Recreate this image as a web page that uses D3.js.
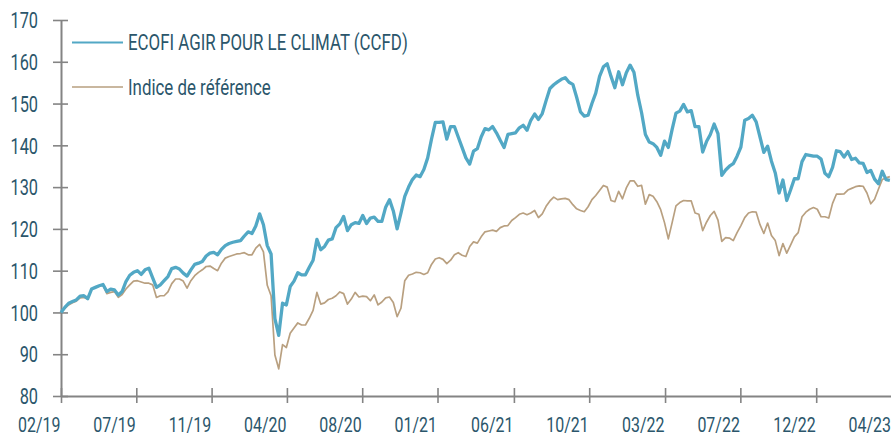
<!DOCTYPE html>
<html>
<head>
<meta charset="utf-8">
<script src="https://cdn.jsdelivr.net/npm/d3@7"></script>
<style>
  html, body { margin: 0; padding: 0; background: #fff; }
  svg { display: block; }
  text { font-family: Roboto, "Liberation Sans", sans-serif; fill: #2b566b; }
</style>
</head>
<body>
<svg id="chart" width="891" height="437"></svg>
<script>
// Weekly closes, base 100 on 22/02/2019
const startDate = "2019-02-22";

const ecofi = [
  100.0, 101.2, 102.2, 102.6, 103.0, 103.9, 104.0, 103.3, 105.6, 106.0,
  106.4, 106.7, 105.0, 105.6, 105.4, 104.2, 105.0, 107.4, 108.9, 109.6,
  110.0, 109.1, 110.2, 110.6, 108.3, 106.0, 106.6, 107.6, 108.6, 110.5,
  110.8, 110.4, 109.4, 108.7, 110.2, 111.5, 111.8, 112.2, 113.5, 114.2,
  114.4, 113.8, 115.1, 116.0, 116.5, 116.8, 117.0, 117.2, 118.3, 119.3,
  118.9, 120.7, 123.6, 121.0, 116.0, 114.0, 98.5, 94.5, 102.2, 101.8,
  106.2, 107.5, 109.5, 109.0, 109.0, 110.8, 112.5, 117.5, 115.0, 115.8,
  117.3, 117.6, 120.3, 121.2, 123.0, 119.6, 121.0, 121.5, 121.3, 123.2,
  121.3, 122.6, 122.8, 121.8, 121.8, 125.2, 127.0, 124.3, 120.0, 123.8,
  127.8, 130.0, 131.8, 132.9, 132.5, 134.2, 137.0, 141.5, 145.5, 145.5,
  145.6, 141.5, 144.5, 144.5, 142.0, 139.5, 137.0, 135.5, 138.6, 139.2,
  142.0, 144.0, 143.7, 144.5, 143.0, 141.2, 139.5, 142.6, 142.8, 143.0,
  144.2, 144.8, 143.6, 146.0, 147.5, 146.2, 147.6, 150.7, 153.6, 154.5,
  155.2, 155.8, 156.2, 155.1, 154.6, 151.5, 148.0, 147.0, 147.2, 150.0,
  152.5, 156.5, 158.8, 159.5, 156.5, 153.8, 157.6, 154.5, 157.4, 159.2,
  157.5, 152.0, 147.8, 142.6, 140.8, 140.4, 139.5, 137.6, 141.0, 139.5,
  143.8, 147.7, 148.2, 149.8, 148.0, 148.3, 144.5, 144.5, 138.4, 140.9,
  142.6, 145.1, 142.8, 132.8, 134.1, 135.0, 135.6, 137.4, 139.6, 146.0,
  146.4, 147.2, 145.6, 142.0, 138.3, 139.8, 136.2, 133.4, 128.6, 131.7,
  126.8, 129.3, 132.0, 132.0, 136.1, 137.8, 137.6, 137.4, 137.4, 136.7,
  133.3, 132.5, 134.7, 138.7, 138.5, 137.2, 138.5, 136.6, 136.9, 135.8,
  135.7, 133.5, 134.0, 131.9, 130.8, 133.8, 131.8, 131.6
];

const indice = [
  100.0, 101.0, 101.8, 102.3, 102.7, 103.5, 103.6, 103.2, 105.6, 106.0,
  106.3, 106.5, 104.5, 104.8, 105.0, 103.6, 104.3, 105.6, 106.6, 107.5,
  107.6, 107.3, 107.0, 107.0, 106.6, 103.6, 104.0, 104.0, 104.9, 106.9,
  108.0, 108.0, 107.5, 105.8, 107.6, 108.8, 109.6, 110.2, 111.0, 111.1,
  110.5, 110.0, 111.8, 113.0, 113.4, 113.7, 114.0, 114.1, 114.3, 113.8,
  113.8, 115.4, 116.3, 114.5, 106.5, 104.0, 89.8, 86.5, 92.3, 91.6,
  95.0, 96.3, 97.5, 97.0, 97.0, 98.6, 100.5, 104.8, 102.0, 102.3,
  103.1, 103.4, 104.0, 104.9, 104.5, 102.0, 103.2, 104.8, 103.7, 103.9,
  103.8, 102.8, 104.2, 101.8, 102.5, 103.5, 103.7, 102.4, 99.0, 101.0,
  107.6, 108.9, 109.2, 109.6, 109.5, 109.1, 109.5, 111.5, 112.8, 113.1,
  112.7, 111.7, 112.5, 113.8, 114.3, 113.7, 113.4, 115.8, 116.9, 116.6,
  118.1, 119.3, 119.5, 119.7, 119.4, 120.3, 120.7, 120.8, 122.0, 122.7,
  123.5, 123.8, 123.4, 123.8, 124.4, 122.7, 123.6, 125.4, 126.7, 127.6,
  127.0, 127.2, 127.3, 127.0, 125.8, 124.8, 124.4, 124.1, 125.3, 127.0,
  128.0, 129.2, 130.4, 130.0, 126.8, 126.5, 129.0, 127.2, 129.8, 131.5,
  131.5, 130.2, 130.4, 125.9, 128.2, 127.8, 126.5, 124.6, 121.5, 117.6,
  121.5, 125.5, 126.3, 126.8, 126.7, 126.7, 123.8, 123.5, 119.6, 121.6,
  123.2, 124.2, 122.1, 117.0, 117.9, 117.8, 117.2, 119.1, 120.8, 122.7,
  123.8, 124.1, 124.0, 121.0, 118.9, 121.4, 118.4, 117.2, 113.6, 116.5,
  114.2, 116.1, 118.1, 119.1, 122.9, 124.0, 124.7, 125.1, 124.7, 122.9,
  122.9, 122.6, 126.1, 128.3, 128.3, 128.4, 129.3, 129.7, 130.1, 130.3,
  130.2, 128.6, 126.0, 127.1, 129.5, 131.8, 132.2, 132.5
];

const seriesNames = ["ECOFI AGIR POUR LE CLIMAT (CCFD)", "Indice de référence"];
const yTicks = [80, 90, 100, 110, 120, 130, 140, 150, 160, 170];
const xTickDates = [
  "2019-02-22", "2019-07-10", "2019-11-25", "2020-04-11", "2020-08-27", "2021-01-12",
  "2021-06-01", "2021-10-17", "2022-03-05", "2022-07-21", "2022-12-07", "2023-04-24"
];

const parse = d3.utcParse("%Y-%m-%d");
const t0 = parse(startDate);
const dates = ecofi.map((_, i) => d3.utcDay.offset(t0, 7 * i));
const tickDates = xTickDates.map(parse);

const colors = { ecofi: "#52a8c5", indice: "#b9a080" };
const axisColor = "#848484";
const fontSize = 21.5;
const squeeze = 0.76;   // condensed lettering

const svg = d3.select("#chart");

const x = d3.scaleUtc()
  .domain([t0, tickDates[tickDates.length - 1]])
  .range([61, 891.5]);

const y = d3.scaleLinear()
  .domain([80, 170])
  .range([396, 20]);

const line = d3.line()
  .x((d, i) => x(dates[i]))
  .y(d => y(d));

// Axes
const gy = svg.append("g")
  .attr("transform", "translate(61,0)")
  .call(d3.axisLeft(y).tickValues(yTicks).tickSize(0).tickFormat(d3.format("d")));
gy.select(".domain").attr("stroke", axisColor).attr("stroke-width", 2);
gy.selectAll(".tick line")
  .attr("x1", -8).attr("x2", 7)
  .attr("stroke", axisColor).attr("stroke-width", 1.6);
gy.selectAll(".tick text")
  .attr("x", 0).attr("dy", "0.36em")
  .attr("text-anchor", "end")
  .attr("transform", `translate(-23,0) scale(${squeeze},1)`)
  .style("font-size", fontSize + "px")
  .style("font-family", "Roboto, sans-serif")
  .attr("fill", "#2b566b");

const gx = svg.append("g")
  .attr("transform", "translate(0,396)")
  .call(d3.axisBottom(x).tickValues(tickDates).tickSize(0).tickFormat(d3.utcFormat("%m/%y")));
gx.select(".domain").attr("stroke", axisColor).attr("stroke-width", 2);
gx.selectAll(".tick line")
  .attr("y1", -8).attr("y2", 7)
  .attr("stroke", axisColor).attr("stroke-width", 1.6);
gx.selectAll(".tick text")
  .attr("y", 0).attr("dy", null)
  .attr("text-anchor", "end")
  .attr("transform", `translate(-1,36) scale(${squeeze},1)`)
  .style("font-size", (fontSize - 0.5) + "px")
  .style("font-family", "Roboto, sans-serif")
  .attr("fill", "#2b566b");

// Series
svg.append("path")
  .datum(indice)
  .attr("fill", "none")
  .attr("stroke", colors.indice)
  .attr("stroke-width", 1.7)
  .attr("stroke-linejoin", "round")
  .attr("d", line);

svg.append("path")
  .datum(ecofi)
  .attr("fill", "none")
  .attr("stroke", colors.ecofi)
  .attr("stroke-width", 3.3)
  .attr("stroke-linejoin", "round")
  .attr("d", line);

// Legend
const legend = svg.append("g");
const legendItems = [
  { name: seriesNames[0], color: colors.ecofi, width: 2.2, y: 42.5 },
  { name: seriesNames[1], color: "#c9b79f", width: 1.8, y: 87 }
];
legendItems.forEach(item => {
  legend.append("line")
    .attr("x1", 72).attr("x2", 123)
    .attr("y1", item.y).attr("y2", item.y)
    .attr("stroke", item.color)
    .attr("stroke-width", item.width);
  legend.append("text")
    .attr("transform", `translate(128,${item.y}) scale(0.785,1)`)
    .attr("dy", "0.36em")
    .style("font-size", fontSize + "px")
    .text(item.name);
});
</script>
</body>
</html>
